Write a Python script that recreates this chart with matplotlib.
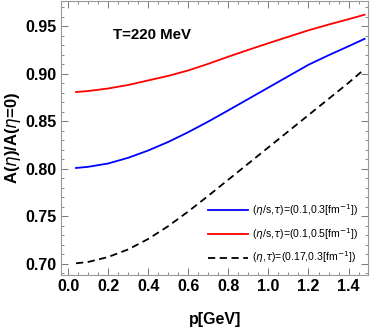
import matplotlib
matplotlib.use("Agg")
import matplotlib.pyplot as plt
from matplotlib.ticker import MultipleLocator, FormatStrFormatter

plt.rcParams['font.family'] = ['Liberation Sans', 'DejaVu Sans']
plt.rcParams['mathtext.fontset'] = 'dejavusans'

# values
p = [0.04, 0.1, 0.2, 0.3, 0.4, 0.5, 0.6, 0.7, 0.8, 0.9, 1.0, 1.1, 1.2, 1.3, 1.4, 1.48]
ratio_blue = [0.8008, 0.8020, 0.8055, 0.8115, 0.8192, 0.8282, 0.8385, 0.8497, 0.8615,
              0.8735, 0.8855, 0.8975, 0.9095, 0.9195, 0.9290, 0.9368]
ratio_red = [0.8808, 0.8818, 0.8845, 0.8882, 0.8930, 0.8978, 0.9035, 0.9105, 0.9180,
             0.9252, 0.9322, 0.9390, 0.9458, 0.9518, 0.9575, 0.9622]
ratio_black = [0.7004, 0.7018, 0.7070, 0.7150, 0.7260, 0.7395, 0.7550, 0.7715, 0.7885,
               0.8055, 0.8225, 0.8395, 0.8565, 0.8735, 0.8905, 0.9050]

labels = [r'($\eta$/s,$\tau$)=(0.1,0.3[fm$^{-1}$])',
          r'($\eta$/s,$\tau$)=(0.1,0.5[fm$^{-1}$])',
          r'($\eta$,$\tau$)=(0.17,0.3[fm$^{-1}$])']

fig, ax = plt.subplots(figsize=(3.71, 3.30), dpi=100)
fig.subplots_adjust(left=0.1644, right=0.993, top=0.998, bottom=0.1667)

ax.plot(p, ratio_blue, color='#0000ff', lw=1.3, label=labels[0])
ax.plot(p, ratio_red, color='#ff0000', lw=1.3, label=labels[1])
ax.plot(p, ratio_black, color='black', lw=1.3, ls=(0, (4, 2.5)), label=labels[2])

ax.set_xlim(-0.035, 1.499)
ax.set_ylim(0.6881, 0.977)
ax.xaxis.set_major_locator(MultipleLocator(0.2))
ax.xaxis.set_minor_locator(MultipleLocator(0.05))
ax.yaxis.set_major_locator(MultipleLocator(0.05))
ax.yaxis.set_minor_locator(MultipleLocator(0.01))
ax.xaxis.set_major_formatter(FormatStrFormatter('%.1f'))
ax.yaxis.set_major_formatter(FormatStrFormatter('%.2f'))

ax.tick_params(which='both', direction='in', top=True, right=True, color='#777777')
ax.tick_params(which='major', length=5, width=0.7, labelsize=11.5, pad=3)
ax.tick_params(which='minor', length=2.5, width=0.6)
for lab in ax.get_xticklabels() + ax.get_yticklabels():
    lab.set_fontweight('bold')
for s in ax.spines.values():
    s.set_color('#999999')
    s.set_linewidth(0.8)

ax.set_xlabel('p[GeV]', fontsize=11.5, fontweight='bold', labelpad=13)
ax.set_ylabel(r'A($\eta$)/A($\eta$=0)', fontsize=12, fontweight='bold', labelpad=2)

ax.text(0.227, 0.941, 'T=220 MeV', fontsize=10.8, fontweight='bold', va='center')

leg = ax.legend(loc='lower right', bbox_to_anchor=(0.966, 0.035), frameon=False,
                fontsize=7.6, handlelength=3.8, labelspacing=0.75,
                borderaxespad=0, borderpad=0, handletextpad=0.35)

fig.savefig('out.png', dpi=100)
